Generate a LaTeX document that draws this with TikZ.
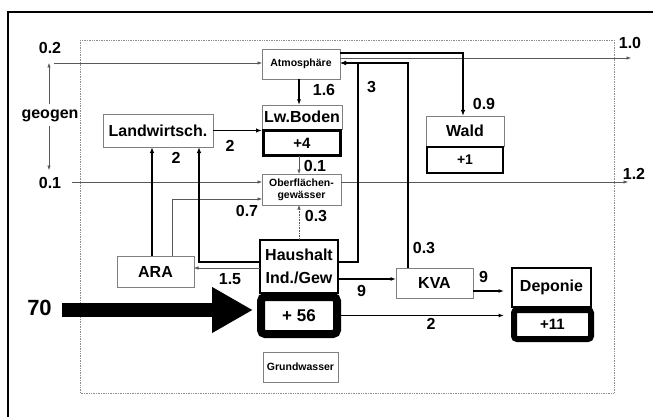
\documentclass[tikz,border=0pt]{standalone}
\usepackage{fontspec}
\setmainfont{Liberation Sans}
\usetikzlibrary{arrows.meta,positioning,calc}

\begin{document}
\begin{tikzpicture}[x=1pt, y=-1pt,
    every node/.style={inner sep=0pt, outer sep=0pt},
    flowbox/.style={draw=black!50, line width=0.6pt, fill=white, align=center, font=\bfseries\fontsize{16}{18}\selectfont},
    tinybox/.style={flowbox, font=\bfseries\fontsize{10.5}{12}\selectfont},
    procbox/.style={flowbox, draw=black, line width=1.3pt},
    stockbox/.style={draw=black, fill=white, align=center, font=\bfseries\fontsize{15}{17}\selectfont},
    val/.style={font=\bfseries\fontsize{16}{18}\selectfont, text height=11.5pt, text depth=0pt},
    heavy/.style={-{Latex[length=6pt,width=4.5pt]}, line width=1.6pt},
    medium/.style={-{Latex[length=5.5pt,width=4pt]}, line width=1.1pt},
    faint/.style={-{Latex[length=4.5pt,width=3.5pt]}, line width=0.6pt, draw=black!65},
]
\useasboundingbox (0,0) rectangle (653,417);
\draw[line width=1.2pt] (8,417) -- (8,12) -- (653,12);
\draw[black!45, densely dotted, line width=0.7pt] (80,40) rectangle (614,393);

\node[tinybox, minimum width=78pt, minimum height=30pt] (atm) at (301,64) {Atmosphäre};
\node[flowbox, minimum width=80pt, minimum height=24pt] (lwb) at (302,117) {Lw.Boden};
\node[stockbox, line width=3pt, minimum width=77pt, minimum height=25pt] (lwbst) at (302,143) {+4};
\node[tinybox, minimum width=79pt, minimum height=31pt] (ober) at (301.5,189.5) {Oberflächen-\\gewässer};
\node[flowbox, minimum width=110pt, minimum height=33pt] (landw) at (158,130.5) {Landwirtsch.};
\node[flowbox, minimum width=78pt, minimum height=30pt] (wald) at (465,131) {Wald};
\node[stockbox, line width=2pt, font=\bfseries\fontsize{14}{16}\selectfont, minimum width=76pt, minimum height=26pt] (waldst) at (465,160) {+1};
\node[flowbox, minimum width=77pt, minimum height=31pt] (ara) at (155.5,271.5) {ARA};
\node[procbox, font=\bfseries\fontsize{16}{23}\selectfont, minimum width=78pt, minimum height=53pt] (haus) at (299,266.5) {Haushalt\\Ind./Gew};
\node[stockbox, line width=8pt, rounded corners=4pt, font=\bfseries\fontsize{17}{19}\selectfont, minimum width=76pt, minimum height=37pt] (hausst) at (299,315.5) {+ 56};
\node[flowbox, minimum width=77pt, minimum height=30pt] (kva) at (434.5,283) {KVA};
\node[procbox, minimum width=79pt, minimum height=39pt] (dep) at (551.5,287.5) {Deponie};
\node[stockbox, line width=6pt, rounded corners=3pt, minimum width=77pt, minimum height=29pt] (depst) at (552.5,324.5) {+11};
\node[tinybox, minimum width=75pt, minimum height=30pt] (grund) at (300.5,367) {Grundwasser};

\node[val] (l02) at (50,48) {0.2};
\node[val] (l01) at (50,183) {0.1};
\node[val, text depth=4pt, inner ysep=3pt] (geo) at (50,115) {geogen};
\node[val] (l10) at (630,43) {1.0};
\node[val] (l12) at (634,174) {1.2};
\node[val] (l16) at (324,90) {1.6};
\node[val] (l3) at (371.5,86.5) {3};
\node[val] (l09) at (484,104) {0.9};
\node[val] (l2a) at (230,145.5) {2};
\node[val] (l2b) at (176,158) {2};
\node[val] (l01b) at (315,166) {0.1};
\node[val] (l07) at (247,211) {0.7};
\node[val] (l03) at (316,216) {0.3};
\node[val] (l03k) at (424,248) {0.3};
\node[val] (l15) at (230,278.5) {1.5};
\node[val] (l9a) at (361.5,290.5) {9};
\node[val] (l9b) at (483.5,276.5) {9};
\node[val] (l2c) at (431,324) {2};
\node[font=\bfseries\fontsize{22}{24}\selectfont, text height=16pt, text depth=0pt] (l70) at (39.5,307) {70};

\coordinate (geotop) at (49,63);
\coordinate (geobot) at (49,170);
\coordinate (airin) at (54,63);
\coordinate (watin) at (72,182);
\coordinate (airout) at (631,58);
\coordinate (watout) at (628,182);
\coordinate (k3) at (358,63);
\coordinate (kk) at (408,63);
\coordinate (inflow) at (62,310);

\draw[faint] (geo.north -| geotop) -- (geotop);
\draw[faint] (geo.south -| geobot) -- (geobot);
\draw[faint] (airin) -- (airin -| atm.west);
\draw[faint] (watin) -- (watin -| ober.west);
\draw[faint] (watout -| ober.east) -- (watout);
\draw[faint] (airout -| atm.east) -- (airout);
\draw[heavy] ([yshift=11pt]atm.east) -| ([xshift=-2pt]wald.north);
\draw[heavy] ([yshift=4.5pt]haus.east) -| (k3) -- (k3 -| atm.east);
\draw[heavy] (kk |- kva.north) -- (kk) -- (kk -| atm.east);
\draw[medium] ([xshift=-2pt]atm.south) -- ([xshift=-2pt]atm.south |- lwb.north);
\draw[heavy] (landw.east) -- (landw.east -| lwb.west);
\draw[faint] ([xshift=-3pt]lwbst.south) -- ([xshift=-3pt]lwbst.south |- ober.north);
\draw[faint, densely dotted] (haus.north) -- (haus.north |- ober.south);
\draw[faint] ([xshift=16.5pt]ara.north) |- ([yshift=-9.5pt]ober.west);
\draw[heavy] ([xshift=-3.5pt]ara.north) -- ([xshift=-3.5pt]ara.north |- landw.south);
\draw[heavy] ([yshift=4.5pt]haus.west) -| ([xshift=41pt]landw.south);
\draw[faint] ([yshift=-1.5pt]haus.west) -- ([yshift=-1.5pt]haus.west -| ara.east);
\draw[medium] ([yshift=-12.5pt]haus.east) -- ([yshift=-12.5pt]haus.east -| kva.west);
\draw[medium, shorten >=8pt] ([yshift=-8pt]kva.east) -- ([yshift=-8pt]kva.east -| dep.west);
\draw[medium, shorten >=10pt] (hausst.east) -- (hausst.east -| depst.west);
\draw[line width=14pt, -{Triangle[length=41pt,width=43pt]}, shorten >=8pt] (inflow) -- (inflow -| hausst.west);
\end{tikzpicture}
\end{document}
